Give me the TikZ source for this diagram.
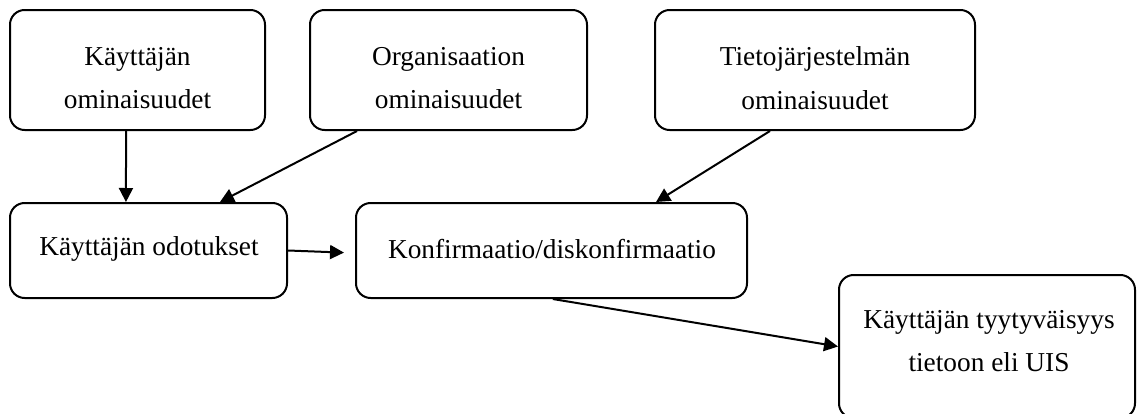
\documentclass[tikz,border=0pt]{standalone}
\usepackage{fontspec}
\setmainfont{Liberation Serif}
\usetikzlibrary{arrows.meta}

\begin{document}
\begin{tikzpicture}[
  x=0.75pt, y=-0.75pt,
  box/.style={draw, line width=1.5pt, rounded corners=11pt, inner sep=0pt},
  lbl/.style={align=center, inner sep=0pt, font=\fontsize{20.5}{32.5}\selectfont},
  arr/.style={line width=1.5pt, -{Triangle[length=10.5pt,width=10.5pt]}}
]
\useasboundingbox (0,0) rectangle (1140,414);
\clip (0,0) rectangle (1140,414);

% boxes (pixel-style coordinates, 1 unit = 0.75pt)
\node[box, minimum width={255*0.75pt}, minimum height={120*0.75pt}] (b1) at (137.5,70) {};
\node[box, minimum width={277*0.75pt}, minimum height={120*0.75pt}] (b2) at (448.5,70) {};
\node[box, minimum width={320*0.75pt}, minimum height={120*0.75pt}] (b3) at (815,70) {};
\node[box, minimum width={277*0.75pt}, minimum height={95*0.75pt}] (b4) at (148.5,250.5) {};
\node[box, minimum width={391*0.75pt}, minimum height={95*0.75pt}] (b5) at (551.5,250.5) {};
\node[box, minimum width={296*0.75pt}, minimum height={143*0.75pt}] (b6) at (987,346.5) {};

% texts
\node[lbl] (t1) at (137.5,78) {Käyttäjän\\ominaisuudet};
\node[lbl] (t2) at (448.5,78) {Organisaation\\ominaisuudet};
\node[lbl] (t3) at (815,78) {Tietojärjestelmän\\ominaisuudet};
\node[lbl] (t4) at (149,249) {Käyttäjän odotukset};
\node[lbl] (t5) at (552,249) {Konfirmaatio/diskonfirmaatio};
\node[lbl] (t6) at (989,341) {Käyttäjän tyytyväisyys\\tietoon eli UIS};

% connectors
\draw[arr] ([xshift=-8.6pt]b1.south) -- ([xshift=-16.9pt]b4.north);
\draw[arr] ([xshift=-68.6pt]b2.south) -- ([xshift=53.6pt]b4.north);
\draw[arr] ([xshift=-33.75pt]b3.south) -- ([xshift=78.4pt]b5.north);
\draw[arr, shorten >=8.25pt] (b4.east) -- ([yshift=-1.9pt]b5.west);
\draw[arr] ([xshift=1pt]b5.south) -- (b6.west);
\end{tikzpicture}
\end{document}
